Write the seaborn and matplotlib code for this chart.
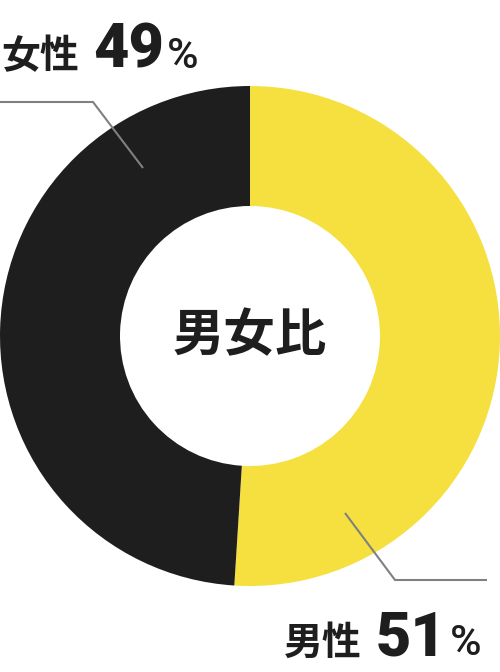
import matplotlib
matplotlib.use("Agg")
import matplotlib.pyplot as plt
import seaborn as sns

# 男女比 data
labels = ["男性", "女性"]
shares = [51, 49]
colors = ["#F5E03F", "#1E1E1E"]

sns.set_theme(style="white")
plt.rcParams['font.family'] = ['Noto Sans CJK JP', 'DejaVu Sans']

fig = plt.figure(figsize=(5, 6.72), dpi=100)
ax = fig.add_axes([0, 0, 1, 1])

# donut, clockwise from the top
ax.pie(shares, colors=colors, startangle=90, counterclock=False,
       center=(250, 336), radius=250,
       wedgeprops=dict(width=120, linewidth=0), frame=True)
ax.set_xlim(0, 500)
ax.set_ylim(0, 672)
ax.axis("off")

ax.text(250, 336, "男女比", ha="center", va="center", fontsize=37,
        fontweight="bold", color="#1E1E1E")

# leader lines
line_kw = dict(color="#808080", lw=1.5, solid_capstyle="butt")
ax.plot([0, 93, 143], [672 - 102, 672 - 102, 672 - 168], **line_kw)
ax.plot([345, 395, 487], [672 - 513, 672 - 580, 672 - 580], **line_kw)

renderer = fig.canvas.get_renderer()

# labels: name, big number, then % right after the number
def label(x0, x1, base, name, pct):
    ax.text(x0, base, name, ha="left", va="baseline", fontsize=28,
            fontweight="bold", color="#1E1E1E")
    num = ax.text(x1, base, str(pct), ha="left", va="baseline", fontsize=44,
                  fontweight="black", family="Roboto", color="#1E1E1E")
    bb = num.get_window_extent(renderer)
    x2 = ax.transData.inverted().transform((bb.x1, bb.y0))[0] + 3
    ax.text(x2, base, "%", ha="left", va="baseline", fontsize=31,
            fontweight="medium", family="Roboto", color="#1E1E1E")

label(1, 93, 672 - 68, labels[1], shares[1])
label(284, 376, 672 - 655, labels[0], shares[0])

fig.savefig("out.png", dpi=100, facecolor="white")
